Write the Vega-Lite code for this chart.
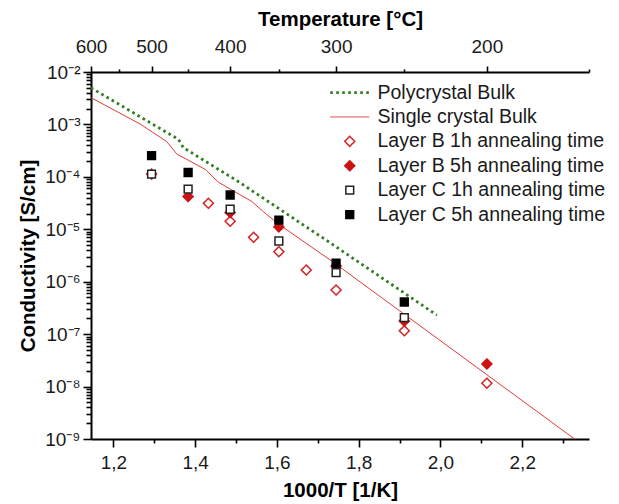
{
  "$schema": "https://vega.github.io/schema/vega-lite/v6.json",
  "width": 498,
  "height": 367,
  "autosize": {"type": "none"},
  "padding": {"left": 91, "top": 72, "right": 30, "bottom": 65},
  "background": "white",
  "data": {
    "values": [
      {"series": "Polycrystal Bulk", "x": 1.1453, "y": 5.0e-3},
      {"series": "Polycrystal Bulk", "x": 1.359, "y": 5.2e-4},
      {"series": "Polycrystal Bulk", "x": 1.3713, "y": 3.6e-4},
      {"series": "Polycrystal Bulk", "x": 1.5058, "y": 8.1e-5},
      {"series": "Polycrystal Bulk", "x": 1.7261, "y": 5.8e-6},
      {"series": "Polycrystal Bulk", "x": 1.9913, "y": 2.3e-7},
      {"series": "Single crystal Bulk", "x": 1.1453, "y": 3.24e-3},
      {"series": "Single crystal Bulk", "x": 1.2653, "y": 1.02e-3},
      {"series": "Single crystal Bulk", "x": 1.3307, "y": 4.69e-4},
      {"series": "Single crystal Bulk", "x": 1.3551, "y": 2.73e-4},
      {"series": "Single crystal Bulk", "x": 1.4244, "y": 1.39e-4},
      {"series": "Single crystal Bulk", "x": 1.4569, "y": 7.91e-5},
      {"series": "Single crystal Bulk", "x": 1.5394, "y": 3.36e-5},
      {"series": "Single crystal Bulk", "x": 1.567, "y": 2.16e-5},
      {"series": "Single crystal Bulk", "x": 1.6037, "y": 1.26e-5},
      {"series": "Single crystal Bulk", "x": 1.7302, "y": 2.6e-6},
      {"series": "Single crystal Bulk", "x": 2.328, "y": 1.0e-9},
      {"series": "Layer B 1h annealing time", "x": 1.2934, "y": 1.13e-4},
      {"series": "Layer B 1h annealing time", "x": 1.4324, "y": 3.13e-5},
      {"series": "Layer B 1h annealing time", "x": 1.4856, "y": 1.42e-5},
      {"series": "Layer B 1h annealing time", "x": 1.5429, "y": 7.03e-6},
      {"series": "Layer B 1h annealing time", "x": 1.6047, "y": 3.74e-6},
      {"series": "Layer B 1h annealing time", "x": 1.6718, "y": 1.67e-6},
      {"series": "Layer B 1h annealing time", "x": 1.7447, "y": 6.95e-7},
      {"series": "Layer B 1h annealing time", "x": 1.9115, "y": 1.16e-7},
      {"series": "Layer B 1h annealing time", "x": 2.1135, "y": 1.16e-8},
      {"series": "Layer B 5h annealing time", "x": 1.3828, "y": 4.22e-5},
      {"series": "Layer B 5h annealing time", "x": 1.4856, "y": 2.09e-5},
      {"series": "Layer B 5h annealing time", "x": 1.6047, "y": 1.11e-5},
      {"series": "Layer B 5h annealing time", "x": 1.7447, "y": 2.0e-6},
      {"series": "Layer B 5h annealing time", "x": 1.9115, "y": 1.78e-7},
      {"series": "Layer B 5h annealing time", "x": 2.1135, "y": 2.7e-8},
      {"series": "Layer C 1h annealing time", "x": 1.2934, "y": 1.13e-4},
      {"series": "Layer C 1h annealing time", "x": 1.3828, "y": 5.82e-5},
      {"series": "Layer C 1h annealing time", "x": 1.4856, "y": 2.41e-5},
      {"series": "Layer C 1h annealing time", "x": 1.6047, "y": 5.98e-6},
      {"series": "Layer C 1h annealing time", "x": 1.7447, "y": 1.49e-6},
      {"series": "Layer C 1h annealing time", "x": 1.9115, "y": 2.06e-7},
      {"series": "Layer C 5h annealing time", "x": 1.2934, "y": 2.53e-4},
      {"series": "Layer C 5h annealing time", "x": 1.3828, "y": 1.21e-4},
      {"series": "Layer C 5h annealing time", "x": 1.4856, "y": 4.51e-5},
      {"series": "Layer C 5h annealing time", "x": 1.6047, "y": 1.5e-5},
      {"series": "Layer C 5h annealing time", "x": 1.7447, "y": 2.25e-6},
      {"series": "Layer C 5h annealing time", "x": 1.9115, "y": 4.1e-7}
    ]
  },
  "resolve": {"axis": {"x": "independent"}},
  "layer": [
    {
      "transform": [{"filter": "datum.series == 'Polycrystal Bulk'"}],
      "mark": {"type": "line", "stroke": "#2f7d1f", "strokeDash": [2.6, 3.4], "strokeWidth": 2.8, "strokeCap": "butt"},
      "encoding": {
        "x": {
          "field": "x", "type": "quantitative",
          "scale": {"domain": [1.145278, 2.363228], "nice": false, "zero": false},
          "axis": {
            "orient": "bottom",
            "title": "1000/T [1/K]",
            "values": [1.2, 1.3, 1.4, 1.5, 1.6, 1.7, 1.8, 1.9, 2.0, 2.1, 2.2, 2.3],
            "labelExpr": "(round(datum.value*10) % 2 == 0) ? replace(format(datum.value, '.1f'), '.', ',') : ''",
            "tickSize": {"condition": {"test": "round(datum.value*10) % 2 == 0", "value": 8}, "value": 4},
            "labelPadding": 6,
            "titlePadding": 8,
            "grid": false
          }
        },
        "y": {
          "field": "y", "type": "quantitative",
          "scale": {"type": "log", "domain": [1e-9, 1e-2], "nice": false},
          "axis": {
            "title": "Conductivity [S/cm]",
            "values": [1e-9,2e-9,3e-9,4e-9,5e-9,6e-9,7e-9,8e-9,9e-9,1e-8,2e-8,3e-8,4e-8,5e-8,6e-8,7e-8,8e-8,9e-8,1e-7,2e-7,3e-7,4e-7,5e-7,6e-7,7e-7,8e-7,9e-7,1e-6,2e-6,3e-6,4e-6,5e-6,6e-6,7e-6,8e-6,9e-6,1e-5,2e-5,3e-5,4e-5,5e-5,6e-5,7e-5,8e-5,9e-5,1e-4,2e-4,3e-4,4e-4,5e-4,6e-4,7e-4,8e-4,9e-4,1e-3,2e-3,3e-3,4e-3,5e-3,6e-3,7e-3,8e-3,9e-3,1e-2],
            "labelExpr": "abs(log(datum.value)/LN10 - round(log(datum.value)/LN10)) < 0.01 ? '10⁻' + ['⁰','¹','²','³','⁴','⁵','⁶','⁷','⁸','⁹'][-round(log(datum.value)/LN10)] : ''",
            "tickSize": {"condition": {"test": "abs(log(datum.value)/LN10 - round(log(datum.value)/LN10)) < 0.01", "value": 8}, "value": 5},
            "labelPadding": 3,
            "titlePadding": 6,
            "grid": false
          }
        }
      }
    },
    {
      "transform": [{"filter": "datum.series == 'Single crystal Bulk'"}],
      "mark": {"type": "line", "stroke": "#e23b3b", "strokeWidth": 1},
      "encoding": {
        "x": {"field": "x", "type": "quantitative", "axis": null},
        "y": {"field": "y", "type": "quantitative"}
      }
    },
    {
      "transform": [{"filter": "indexof(['Polycrystal Bulk','Single crystal Bulk'], datum.series) < 0"}],
      "mark": {"type": "point", "filled": true, "size": 100, "opacity": 1},
      "encoding": {
        "x": {"field": "x", "type": "quantitative",
          "axis": {
            "orient": "top",
            "title": "Temperature [°C]",
            "values": [1.145278, 1.214845, 1.29341, 1.382839, 1.485553, 1.60475, 1.744744, 1.911499, 2.113495, 2.363228],
            "labelExpr": "indexof([600,500,400,300,200], round(1000/datum.value - 273.15)) >= 0 ? '' + round(1000/datum.value - 273.15) : ''",
            "tickSize": {"condition": {"test": "indexof([600,500,400,300,200], round(1000/datum.value - 273.15)) >= 0", "value": 6}, "value": 3},
            "labelPadding": 10,
            "titlePadding": 8,
            "labelFlush": false,
            "grid": false
          }},
        "y": {"field": "y", "type": "quantitative"},
        "stroke": {"field": "series", "type": "nominal",
          "scale": {"domain": ["Polycrystal Bulk","Single crystal Bulk","Layer B 1h annealing time","Layer B 5h annealing time","Layer C 1h annealing time","Layer C 5h annealing time"],
                    "range": ["#2f7d1f","#e23b3b","#d42424","#cc1111","#222222","#000000"]},
          "legend": {"orient": "none", "legendX": 249, "legendY": 10.8, "title": null}},
        "strokeDash": {"field": "series", "type": "nominal",
          "scale": {"domain": ["Polycrystal Bulk","Single crystal Bulk","Layer B 1h annealing time","Layer B 5h annealing time","Layer C 1h annealing time","Layer C 5h annealing time"],
                    "range": [[2.6,3.4],[1,0],[1,0],[1,0],[1,0],[1,0]]},
          "legend": {"orient": "none", "legendX": 249, "legendY": 10.8, "title": null}},
        "strokeWidth": {"field": "series", "type": "ordinal",
          "scale": {"type": "ordinal", "domain": ["Polycrystal Bulk","Single crystal Bulk","Layer B 1h annealing time","Layer B 5h annealing time","Layer C 1h annealing time","Layer C 5h annealing time"],
                    "range": [2.8,1,1.5,1.5,1.5,1.5]},
          "legend": {"orient": "none", "legendX": 249, "legendY": 10.8, "title": null}},
        "fill": {"field": "series", "type": "nominal",
          "scale": {"domain": ["Polycrystal Bulk","Single crystal Bulk","Layer B 1h annealing time","Layer B 5h annealing time","Layer C 1h annealing time","Layer C 5h annealing time"],
                    "range": ["transparent","transparent","#ffffff","#cc1111","#ffffff","#000000"]},
          "legend": {"orient": "none", "legendX": 249, "legendY": 10.8, "title": null}},
        "shape": {"field": "series", "type": "nominal",
          "scale": {"domain": ["Polycrystal Bulk","Single crystal Bulk","Layer B 1h annealing time","Layer B 5h annealing time","Layer C 1h annealing time","Layer C 5h annealing time"],
                    "range": ["M-3.9,0H3.9","M-3.9,0H3.9","diamond","diamond","M-0.78,-0.78H0.78V0.78H-0.78Z","M-0.78,-0.78H0.78V0.78H-0.78Z"]},
          "legend": {"orient": "none", "legendX": 249, "legendY": 10.8, "title": null}}
      }
    }
  ],
  "config": {
    "view": {"stroke": null},
    "font": "Liberation Sans",
    "axis": {
      "domainColor": "#000000",
      "domainWidth": 2,
      "tickColor": "#000000",
      "tickWidth": 1.6,
      "labelFont": "Liberation Sans",
      "labelFontSize": 19,
      "labelColor": "#1a1a1a",
      "titleFont": "Liberation Sans",
      "titleFontSize": 20.5,
      "titleFontWeight": "bold",
      "titleColor": "#000000",
      "labelOverlap": false
    },
    "legend": {
      "labelFont": "Liberation Sans",
      "labelFontSize": 19.5,
      "labelColor": "#1a1a1a",
      "labelLimit": 400,
      "symbolSize": 100,
      "labelOffset": 18,
      "rowPadding": 3.4,
      "padding": 0
    }
  }
}
